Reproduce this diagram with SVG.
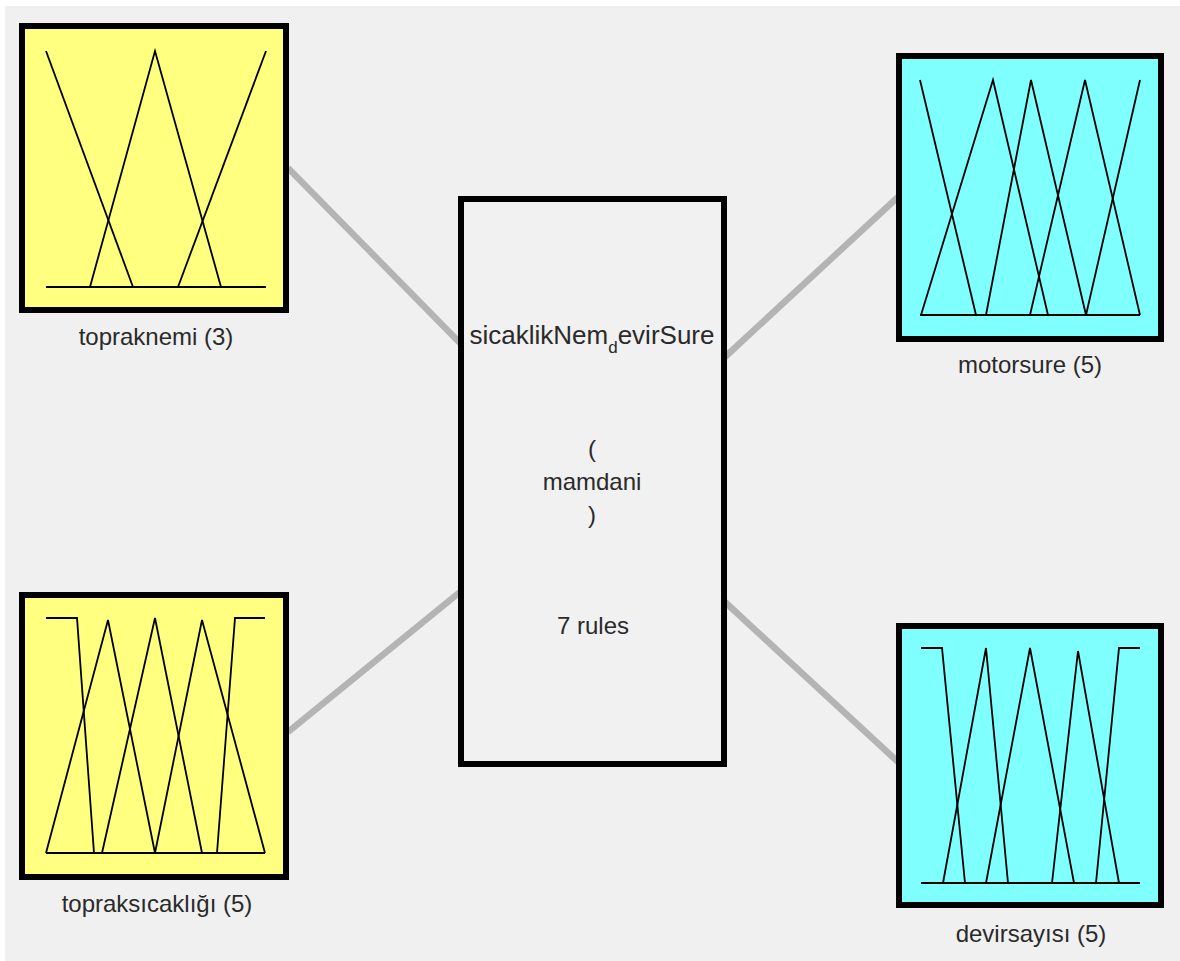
<svg xmlns="http://www.w3.org/2000/svg" width="1180" height="961" viewBox="0 0 1180 961">
<style>
.box{stroke:#000;stroke-width:6}
.in{fill:#ffff80}
.out{fill:#80ffff}
.mf{fill:none;stroke:#000;stroke-width:1.8;stroke-linejoin:miter}
.conn{stroke:#b4b4b4;stroke-width:6.5;stroke-linecap:butt}
.lbl{font-family:"Liberation Sans",Arial,sans-serif;font-size:24px;fill:#2a2a2a;text-anchor:middle}
.ctr{font-family:"Liberation Sans",Arial,sans-serif;font-size:24px;fill:#2a2a2a;text-anchor:middle}
.name{font-size:26px}
.sub{font-size:17px}
</style>
<rect x="0" y="0" width="1180" height="961" fill="#ffffff"/>
<rect x="5" y="6" width="1175" height="955" fill="#f0f0f0"/>
<g id="connectors">
<line class="conn" x1="288" y1="168" x2="460" y2="343"/>
<line class="conn" x1="288" y1="732" x2="460" y2="592"/>
<line class="conn" x1="725" y1="357" x2="898" y2="197"/>
<line class="conn" x1="725" y1="602" x2="898" y2="762"/>
</g>
<g id="topraknemi">
<rect class="box in" x="22" y="26" width="264" height="284"/>
<line class="mf" x1="46" y1="287" x2="266" y2="287"/>
<polyline class="mf" points="46,51 133,287"/>
<polyline class="mf" points="90,287 155,51 221,287"/>
<polyline class="mf" points="178,287 266,51"/>
<text class="lbl" x="156" y="345">topraknemi (3)</text>
</g>
<g id="topraksicakligi">
<rect class="box in" x="22" y="595" width="264" height="282"/>
<line class="mf" x1="46" y1="853" x2="265" y2="853"/>
<polyline class="mf" points="46,618 77,618 94,853"/>
<polyline class="mf" points="46,853 108,620 155,853"/>
<polyline class="mf" points="102,853 155,618 202,853"/>
<polyline class="mf" points="155,853 202,620 265,853"/>
<polyline class="mf" points="217,853 235,618 265,618"/>
<text class="lbl" x="157" y="912">topraksıcaklığı (5)</text>
</g>
<g id="fis">
<rect class="box" x="461" y="199" width="263" height="565" fill="#f1f1f1"/>
<text class="ctr name" x="592" y="344">sicaklikNem<tspan class="sub" dy="9">d</tspan><tspan dy="-9">evirSure</tspan></text>
<text class="ctr" x="592" y="457">(</text>
<text class="ctr" x="592" y="490">mamdani</text>
<text class="ctr" x="592" y="523">)</text>
<text class="ctr" x="593" y="634">7 rules</text>
</g>
<g id="motorsure">
<rect class="box out" x="899" y="56" width="262" height="283"/>
<line class="mf" x1="920" y1="315" x2="1140" y2="315"/>
<polyline class="mf" points="920,80 976,315"/>
<polyline class="mf" points="921,315 993,80 1048,315"/>
<polyline class="mf" points="986,315 1031,80 1086,315"/>
<polyline class="mf" points="1030,315 1085,80 1140,315"/>
<polyline class="mf" points="1086,315 1140,80"/>
<text class="lbl" x="1030" y="373">motorsure (5)</text>
</g>
<g id="devirsayisi">
<rect class="box out" x="899" y="626" width="262" height="279"/>
<line class="mf" x1="921" y1="883" x2="1140" y2="883"/>
<polyline class="mf" points="921,648 942,648 965,883"/>
<polyline class="mf" points="943,883 986,648 1008,883"/>
<polyline class="mf" points="986,883 1030,648 1074,883"/>
<polyline class="mf" points="1052,883 1078,651 1119,883"/>
<polyline class="mf" points="1096,883 1119,648 1140,648"/>
<text class="lbl" x="1031" y="942">devirsayısı (5)</text>
</g>
</svg>
